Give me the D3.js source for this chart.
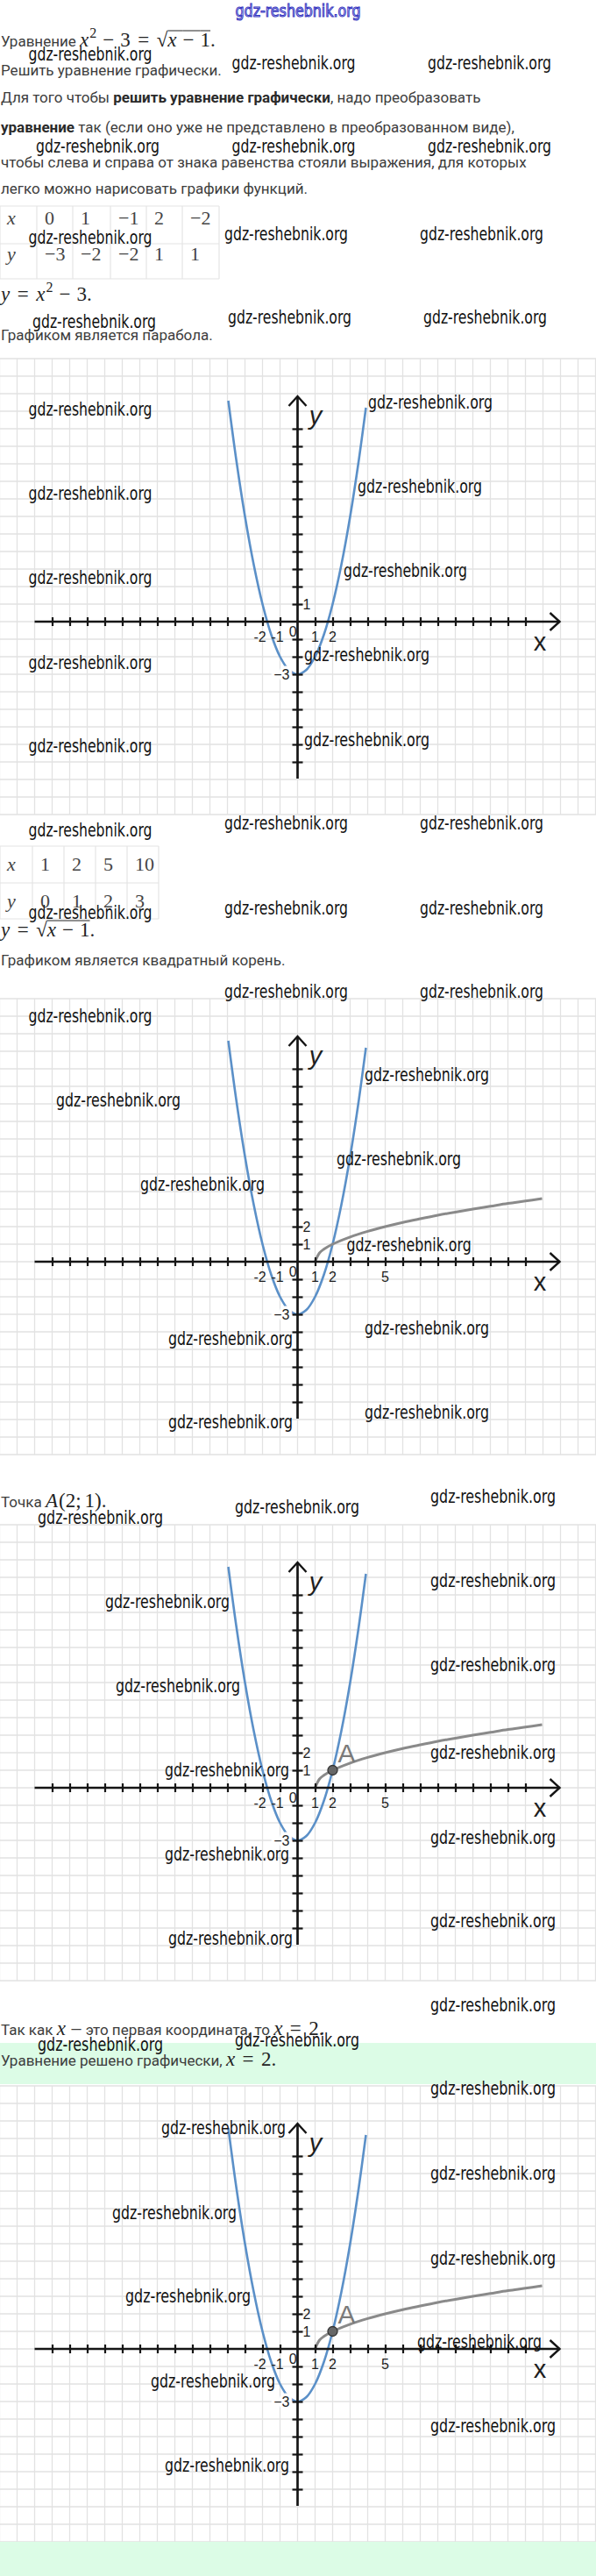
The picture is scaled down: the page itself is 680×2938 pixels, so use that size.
<!DOCTYPE html>
<html><head><meta charset="utf-8">
<script src="https://cdn.jsdelivr.net/npm/d3@7"></script>
<style>body{margin:0;background:#fff}svg{display:block}text{white-space:pre}</style>
</head><body>
<svg id="c" width="680" height="2938"></svg>
<script>
// ---------- data ----------
const tableX1 = ["0", "1", "−1", "2", "−2"];
const tableY1 = ["−3", "−2", "−2", "1", "1"];
const tableX2 = ["1", "2", "5", "10"];
const tableY2 = ["0", "1", "2", "3"];
// parabola y = x^2 - 3
const parabolaX = [-3.95, -3.5, -3, -2.5, -2, -1.5, -1, -0.5, 0, 0.5, 1, 1.5, 2, 2.5, 3, 3.5, 3.9];
const parabolaY = [12.6, 9.25, 6, 3.25, 1, -0.75, -2, -2.75, -3, -2.75, -2, -0.75, 1, 3.25, 6, 9.25, 12.2];
// y = sqrt(x - 1)
const sqrtX = [1, 1.25, 1.5, 2, 3, 4, 5, 6, 7, 8, 9, 10, 11, 12, 13, 13.95];
const sqrtY = [0, 0.5, 0.71, 1, 1.41, 1.73, 2, 2.24, 2.45, 2.65, 2.83, 3, 3.16, 3.32, 3.46, 3.6];
const pointA = [2, 1];
const xTickValues = [-14,-13,-12,-11,-10,-9,-8,-7,-6,-5,-4,-3,-2,-1,1,2,3,4,5,6,7,8,9,10,11,12,13];
const yTickValues = [-8,-7,-6,-5,-4,-3,-2,-1,1,2,3,4,5,6,7,8,9,10,11];
const xLabelVals1 = [-2, -1, 1, 2];
const xLabelText1 = ["-2", "-1", "1", "2"];
const xLabelVals2 = [-2, -1, 1, 2, 5];
const xLabelText2 = ["-2", "-1", "1", "2", "5"];
const yLabelVals1 = [1, -3];
const yLabelText1 = ["1", "−3"];
const yLabelVals2 = [2, 1, -3];
const yLabelText2 = ["2", "1", "−3"];

// ---------- style ----------
const SANS = "Roboto, 'Noto Sans', sans-serif";
const SERIF = "'Liberation Serif', 'DejaVu Serif', serif";
const ARIAL = "'Liberation Sans', Arial, sans-serif";
const WMF = "'Liberation Sans Narrow', 'DejaVu Sans Condensed', sans-serif";
const TEXT = "#3d3d3d";
const FS = 17, MS = 23, TS = 22;
const GRID = "#e2e2e2";
const BLUE = "#5b90c8";
const OX = 339.5;
const BIN = 7, REL = 8.5;

const svg = d3.select("#c");

// ---------- helpers ----------
const S = (t, o = {}) => Object.assign({t, ff: SANS, fs: FS}, o);
const B = (t, o = {}) => Object.assign({t, ff: SANS, fs: FS, fw: 700, fill: "#2a2a2a"}, o);
const MI = (t, o = {}) => Object.assign({t, ff: SERIF, fs: MS, fst: "italic", fill: "#222"}, o);
const MN = (t, o = {}) => Object.assign({t, ff: SERIF, fs: MS, fill: "#222"}, o);
const SUP = (t, o = {}) => Object.assign({t, ff: SERIF, fs: 16, fill: "#222", dy: -10}, o);

function richLine(x0, base, segs, parent = svg) {
  let cx = x0;
  for (const s of segs) {
    cx += (s.pre || 0);
    const t = parent.append("text").attr("x", cx).attr("y", base + (s.dy || 0))
      .attr("font-family", s.ff).attr("font-size", s.fs)
      .attr("font-weight", s.fw || 400).attr("font-style", s.fst || "normal")
      .attr("fill", s.fill || TEXT).text(s.t);
    const w = t.node().getComputedTextLength();
    if (s.over) {
      const yy = base - 18;
      parent.append("line").attr("x1", cx - (s.pre || 0)).attr("x2", cx + w + (s.gap || 0)).attr("y1", yy).attr("y2", yy)
        .attr("stroke", "#222").attr("stroke-width", 1);
    }
    cx += w + (s.gap || 0);
  }
  return cx;
}

function wm(x1, x2, cy) {
  svg.append("text").attr("x", x1).attr("y", cy + 6)
    .attr("font-family", WMF).attr("font-size", 21).attr("fill", "#111")
    .attr("textLength", x2 - x1).attr("lengthAdjust", "spacingAndGlyphs")
    .text("gdz-reshebnik.org");
}

function table(top, mid, bot, cols, rowX, rowY, b1, b2) {
  const g = svg.append("g");
  const right = cols[cols.length - 1];
  [top, mid, bot].forEach(yy => g.append("line").attr("x1", 0).attr("x2", right).attr("y1", yy).attr("y2", yy)
    .attr("stroke", "#e4e4e4").attr("stroke-width", 1.2));
  cols.forEach(xx => g.append("line").attr("x1", xx).attr("x2", xx).attr("y1", top).attr("y2", bot)
    .attr("stroke", "#e4e4e4").attr("stroke-width", 1.2));
  g.append("text").attr("x", 8).attr("y", b1).attr("font-family", SERIF).attr("font-style", "italic")
    .attr("font-size", TS).attr("fill", "#444").text("x");
  g.append("text").attr("x", 8).attr("y", b2).attr("font-family", SERIF).attr("font-style", "italic")
    .attr("font-size", TS).attr("fill", "#444").text("y");
  g.selectAll("text.r1").data(rowX).join("text").attr("class", "r1")
    .attr("x", (d, i) => cols[i + 1] + 9).attr("y", b1)
    .attr("font-family", SERIF).attr("font-size", TS).attr("fill", "#444").text(d => d);
  g.selectAll("text.r2").data(rowY).join("text").attr("class", "r2")
    .attr("x", (d, i) => cols[i + 1] + 9).attr("y", b2)
    .attr("font-family", SERIF).attr("font-size", TS).attr("fill", "#444").text(d => d);
}

function graph(oy, cfg) {
  const g = svg.append("g");
  const x = d3.scaleLinear().domain([-17, 17]).range([OX - 340, OX + 340]);
  const y = d3.scaleLinear().domain([-11, 15]).range([oy + 220, oy - 300]);
  // grid
  g.append("g").selectAll("line").data(d3.range(-17, 18)).join("line")
    .attr("x1", d => x(d)).attr("x2", d => x(d)).attr("y1", y(15)).attr("y2", y(-11))
    .attr("stroke", GRID).attr("stroke-width", 1.3);
  g.append("g").selectAll("line").data(d3.range(-11, 16)).join("line")
    .attr("x1", 0).attr("x2", 680).attr("y1", d => y(d)).attr("y2", d => y(d))
    .attr("stroke", GRID).attr("stroke-width", 1.3);

  const line = d3.line().x(d => x(d[0])).y(d => y(d[1])).curve(d3.curveCatmullRom);
  g.append("path").attr("d", line(d3.zip(parabolaX, parabolaY)))
    .attr("fill", "none").attr("stroke", BLUE).attr("stroke-width", 2.6);
  if (cfg.sqrt) {
    g.append("path").attr("d", line(d3.zip(sqrtX, sqrtY)))
      .attr("fill", "none").attr("stroke", "#8a8a8a").attr("stroke-width", 3);
  }
  const AX = "#151515";
  g.append("line").attr("x1", x(-15)).attr("x2", x(14.95)).attr("y1", y(0)).attr("y2", y(0))
    .attr("stroke", AX).attr("stroke-width", 2.7);
  g.append("line").attr("x1", x(0)).attr("x2", x(0)).attr("y1", y(-8.95)).attr("y2", y(12.85))
    .attr("stroke", AX).attr("stroke-width", 2.7);
  const xt = x(14.95), yt = y(12.85);
  g.append("path").attr("d", `M${xt - 11},${oy - 10}L${xt},${oy}L${xt - 11},${oy + 10}`)
    .attr("fill", "none").attr("stroke", AX).attr("stroke-width", 2.4);
  g.append("path").attr("d", `M${OX - 10},${yt + 11}L${OX},${yt}L${OX + 10},${yt + 11}`)
    .attr("fill", "none").attr("stroke", AX).attr("stroke-width", 2.4);
  const styleAxis = a => { a.select(".domain").remove(); a.selectAll("line").attr("stroke", AX).attr("stroke-width", 2.2); a.selectAll("text").remove(); };
  g.append("g").attr("transform", `translate(0,${oy})`)
    .call(d3.axisBottom(x).tickValues(xTickValues).tickSize(5).tickFormat("")).call(styleAxis);
  g.append("g").attr("transform", `translate(0,${oy})`)
    .call(d3.axisTop(x).tickValues(xTickValues).tickSize(5).tickFormat("")).call(styleAxis);
  g.append("g").attr("transform", `translate(${OX},0)`)
    .call(d3.axisLeft(y).tickValues(yTickValues).tickSize(6).tickFormat("")).call(styleAxis);
  g.append("g").attr("transform", `translate(${OX},0)`)
    .call(d3.axisRight(y).tickValues(yTickValues).tickSize(6).tickFormat("")).call(styleAxis);

  const lab = (tx, ty, t, anchor, extra = {}) => {
    const e = g.append("text").attr("x", tx).attr("y", ty).attr("text-anchor", anchor)
      .attr("font-family", ARIAL).attr("font-size", extra.fs || 16).attr("fill", extra.fill || "#1e1e1e")
      .attr("font-style", extra.fst || "normal").text(t);
    if (extra.halo) e.attr("stroke", "#fff").attr("stroke-width", extra.halo).attr("paint-order", "stroke").attr("stroke-linejoin", "round");
    return e;
  };
  cfg.xv.forEach((v, i) => lab(x(v) + (v < 0 ? -3 : 0), oy + 23, cfg.xt[i], "middle"));
  lab(x(-0.27), oy + 17, "0", "middle");
  cfg.yv.forEach((v, i) => {
    if (v < 0) lab(x(-0.45), y(v) + 6, cfg.yt[i], "end", {halo: 7});
    else lab(x(0.52), y(v) + 6, cfg.yt[i], "middle");
  });
  lab(x(13.83), oy + 33, "x", "middle", {fs: 29});
  lab(x(1.03), oy - 225, "y", "middle", {fs: 29, fst: "italic"});

  if (cfg.point) {
    g.append("circle").attr("cx", x(pointA[0])).attr("cy", y(pointA[1])).attr("r", 5.5)
      .attr("fill", "#666").attr("stroke", "#333").attr("stroke-width", 1.3);
    lab(x(pointA[0]) + 16, y(pointA[1]) - 9, "A", "middle", {fs: 30, fill: "#7a7a7a"});
  }
}

// ---------- page ----------
svg.append("text").attr("x", 340).attr("y", 19).attr("text-anchor", "middle")
  .attr("font-family", WMF).attr("font-size", 19).attr("fill", "#cfcff6")
  .attr("stroke", "#3535c0").attr("stroke-width", 1)
  .attr("textLength", 143).attr("lengthAdjust", "spacingAndGlyphs").text("gdz-reshebnik.org");

richLine(1, 53, [S("Уравнение "), MI("x", {gap: 1}), SUP("2", {gap: BIN}), MN("−", {gap: BIN}), MN("3", {gap: REL}),
  MN("=", {gap: REL}), MN("√"), MI("x", {over: true, gap: BIN}), MN("−", {over: true, gap: BIN}), MN("1", {over: true}), MN(".")]);
richLine(1, 86, [S("Решить уравнение графически.")]);
richLine(1, 117, [S("Для того чтобы "), B("решить уравнение графически"), S(", надо преобразовать")]);
richLine(1, 151, [B("уравнение"), S(" так (если оно уже не представлено в преобразованном виде),")]);
richLine(1, 191, [S("чтобы слева и справа от знака равенства стояли выражения, для которых")]);
richLine(1, 221, [S("легко можно нарисовать графики функций.")]);

table(235, 278, 318, [0, 42, 83, 126, 167, 208, 250], tableX1, tableY1, 256, 297);

richLine(1, 343, [MI("y", {gap: REL}), MN("=", {gap: REL}), MI("x", {gap: 1}), SUP("2", {gap: BIN}), MN("−", {gap: BIN}), MN("3.")]);
richLine(1, 388, [S("Графиком является парабола.")]);

graph(709, {xv: xLabelVals1, xt: xLabelText1, yv: yLabelVals1, yt: yLabelText1});

table(965, 1007, 1048, [0, 37, 73, 109, 145, 181], tableX2, tableY2, 993, 1035);

richLine(1, 1068, [MI("y", {gap: REL}), MN("=", {gap: REL}), MN("√"), MI("x", {over: true, gap: BIN}), MN("−", {over: true, gap: BIN}), MN("1", {over: true}), MN(".")]);
richLine(1, 1101, [S("Графиком является квадратный корень.")]);

graph(1439, {sqrt: true, xv: xLabelVals2, xt: xLabelText2, yv: yLabelVals2, yt: yLabelText2});

richLine(1, 1719, [S("Точка "), MI("A", {gap: 1}), MN("(2;", {gap: 4}), MN("1).")]);

graph(2039, {sqrt: true, point: true, xv: xLabelVals2, xt: xLabelText2, yv: yLabelVals2, yt: yLabelText2});

richLine(1, 2321, [S("Так как "), MI("x", {gap: 1}), S(" — это первая координата, то "), MI("x", {gap: REL}), MN("=", {gap: REL}), MN("2.")]);
svg.insert("rect", ":first-child").attr("x", 0).attr("y", 2330).attr("width", 680).attr("height", 47).attr("fill", "#dcfce6");
richLine(1, 2356, [S("Уравнение решено графически, "), MI("x", {gap: REL}), MN("=", {gap: REL}), MN("2.")]);

graph(2679, {sqrt: true, point: true, xv: xLabelVals2, xt: xLabelText2, yv: yLabelVals2, yt: yLabelText2});
svg.append("rect").attr("x", 0).attr("y", 2899).attr("width", 680).attr("height", 39).attr("fill", "#dcfce6");

// watermarks [left, right, centerY]
const marks = [
  [32.5,173.5,63],[264.5,405.5,73],[488,629,73],
  [41,182,168],[264.5,405.5,168],[488,629,168],
  [32.5,173.5,272],[256,397,268],[479,620,268],
  [37,178,368],[260,401,363],[483,624,363],
  [32.5,173.5,468],[32.5,173.5,564],[32.5,173.5,660],[32.5,173.5,757],[32.5,173.5,852],[32.5,173.5,948],
  [420,562,460],[408,550,556],[392,533,652],[347,490,748],[347,490,845],[256,397,940],[479,620,940],
  [32.5,173.5,1042],[256,397,1037],[479,620,1037],
  [256,397,1132],[479,620,1132],
  [32.5,173.5,1160],[416,558,1227],[64,206,1256],[384,526,1323],[160,302,1352],[395.5,537.7,1421],
  [416,558,1516],[192,334,1528],[416,558,1612],[192,334,1623],
  [43,186,1732],[268,410,1720],[491,634,1708],
  [120,262,1828],[491,634,1804],[491,634,1900],[132,274,1924],[491,634,2000],[188,330,2020],
  [491,634,2097],[188,330,2116],[491,634,2192],[192,334,2212],
  [491,634,2288],[43,186,2333],[268,410,2328],
  [491,634,2383],[184,326,2428],[491,634,2480],[128,270,2525],[491,634,2577],[143,286,2620],
  [476,618,2672],[172,314,2717],[491,634,2768],[188,330,2813]
];
marks.forEach(m => wm(m[0], m[1], m[2]));
</script>
</body></html>
